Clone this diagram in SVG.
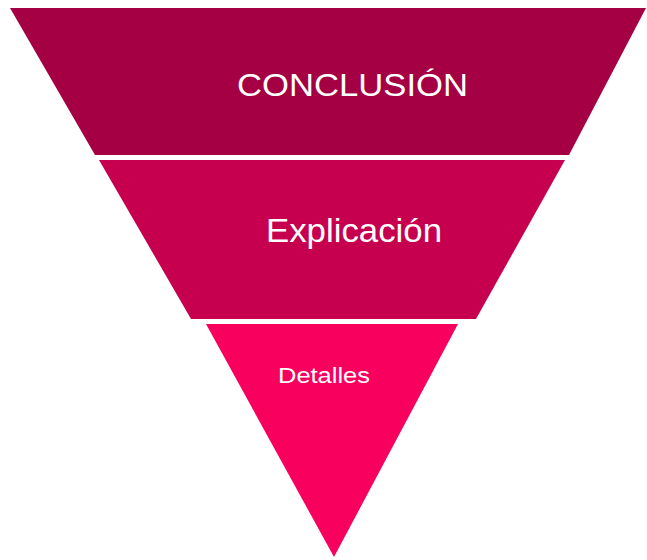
<svg xmlns="http://www.w3.org/2000/svg" width="647" height="560" viewBox="0 0 647 560">
<style>
.t{font-family:"Liberation Sans",Arial,sans-serif;fill:#ffffff;}
</style>
<rect width="647" height="560" fill="#ffffff"/>
<g id="conclusion">
<polygon points="10,8 646,8 569,155 95,155" fill="#A50043"/>
<text class="t" x="237" y="96" font-size="31" textLength="231" lengthAdjust="spacingAndGlyphs">CONCLUSIÓN</text>
</g>
<g id="explicacion">
<polygon points="99,160 565,160 476,319 191,319" fill="#C6004F"/>
<text class="t" x="266" y="242" font-size="33" textLength="176" lengthAdjust="spacingAndGlyphs">Explicación</text>
</g>
<g id="detalles">
<polygon points="206,324 458,324 334,557" fill="#F7005E"/>
<text class="t" x="278" y="383" font-size="22.5" textLength="92" lengthAdjust="spacingAndGlyphs">Detalles</text>
</g>
</svg>
